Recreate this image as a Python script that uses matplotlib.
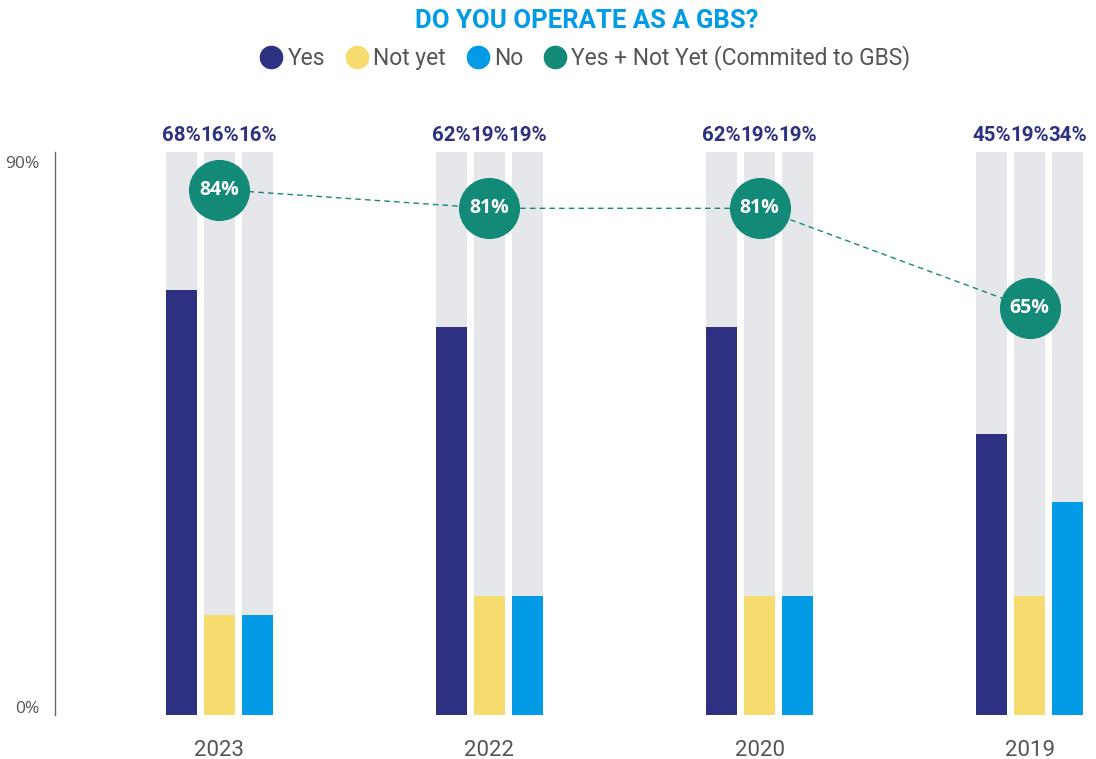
import matplotlib
matplotlib.use("Agg")
import matplotlib.pyplot as plt
from matplotlib.lines import Line2D
import numpy as np

# data
years = ["2023", "2022", "2020", "2019"]
yes = [68, 62, 62, 45]
not_yet = [16, 19, 19, 19]
no = [16, 19, 19, 34]
committed = [84, 81, 81, 65]
y_ticks = [0, 90]
y_tick_labels = ["0%", "90%"]
series_names = ["Yes", "Not yet", "No", "Yes + Not Yet (Commited to GBS)"]

C_YES = "#2E3182"
C_NOTYET = "#F6DC6E"
C_NO = "#039BE5"
C_GREEN = "#138A78"
C_BG = "#E6E7EB"
C_TEXT = "#555555"

fig = plt.figure(figsize=(10.96, 7.59), dpi=100)
ax = fig.add_axes([55 / 1096, 44 / 759, 1 - 55 / 1096, 563 / 759])

x = np.arange(len(years))
w = 31 / 270
off = 38 / 270
ymax = y_ticks[-1]

for i, vals, col in [(-1, yes, C_YES), (0, not_yet, C_NOTYET), (1, no, C_NO)]:
    ax.bar(x + i * off, [ymax] * len(x), width=w, color=C_BG, zorder=1)
    ax.bar(x + i * off, vals, width=w, color=col, zorder=2)
    for xi, v in zip(x, vals):
        ax.annotate(f"{v}%", (xi + i * off, ymax), xytext=(0, 8), textcoords="offset points",
                    ha="center", va="baseline", fontsize=14.8, fontweight="bold",
                    color=C_YES, family="Roboto", annotation_clip=False)

# committed line + bubbles
ax.plot(x, committed, linestyle=(0, (4, 3)), color=C_GREEN, linewidth=1, zorder=3)
ax.plot(x, committed, linestyle="none", marker="o", markersize=43, color=C_GREEN, zorder=4)
for xi, v in zip(x, committed):
    ax.text(xi, v, f"{v}%", ha="center", va="center", fontsize=14, fontweight="bold",
            color="white", family="Open Sans", zorder=5)

ax.set_xlim(-0.609, 3.246)
ax.set_ylim(0, ymax)
for s in ["top", "right", "bottom"]:
    ax.spines[s].set_visible(False)
ax.spines["left"].set_color("#666666")
ax.spines["left"].set_linewidth(1)

ax.set_yticks([])
for t, lab in zip(y_ticks, y_tick_labels):
    dy = -9 if t == ymax else 4
    ax.annotate(lab, (0, t), xycoords=ax.get_yaxis_transform(), xytext=(-11.5, dy),
                textcoords="offset points", ha="right", va="center", fontsize=12.5,
                color=C_TEXT, family="Open Sans", annotation_clip=False)

ax.set_xticks(x)
ax.set_xticklabels(years, fontsize=16, color=C_TEXT, family="Roboto")
ax.tick_params(axis="x", length=0, pad=18)

fig.text(0.535, 0.972, "DO YOU OPERATE AS A GBS?", ha="center", va="center", fontsize=18.5,
         fontweight="bold", color=C_NO, family="Roboto")

handles = [Line2D([], [], linestyle="none", marker="o", markersize=16, color=c)
           for c in [C_YES, C_NOTYET, C_NO, C_GREEN]]
leg = fig.legend(handles, series_names, loc="center", bbox_to_anchor=(0.535, 0.9236), ncol=4,
                 frameon=False, handlelength=0.8, handletextpad=0.3, columnspacing=1.0,
                 prop={"family": "Roboto", "size": 16.5})
for t in leg.get_texts():
    t.set_color(C_TEXT)

fig.savefig("out.png", dpi=100)
